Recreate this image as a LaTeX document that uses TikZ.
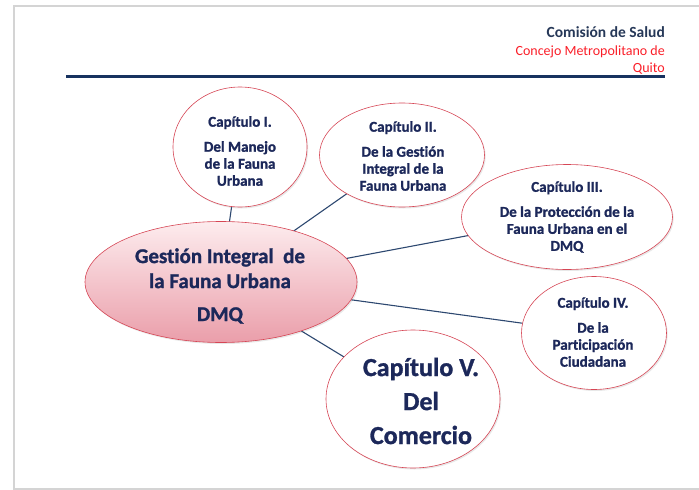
\documentclass[tikz,border=0pt]{standalone}
\usepackage{fontspec}
\setmainfont[Ligatures=NoCommon]{Carlito}
\newfontfamily\heavy[Ligatures=NoCommon,FakeBold=1.2]{Carlito Bold}
\usetikzlibrary{shapes.geometric,shadows,backgrounds}
\definecolor{navy}{RGB}{28,40,90}
\definecolor{rulec}{RGB}{23,50,95}
\definecolor{edgec}{RGB}{214,70,85}
\definecolor{connc}{RGB}{45,72,112}
\definecolor{hdrc}{RGB}{38,56,88}
\definecolor{redc}{RGB}{250,30,40}
\definecolor{framec}{RGB}{212,212,212}
\definecolor{pinktop}{RGB}{253,236,238}
\definecolor{pinkbot}{RGB}{234,158,170}
\begin{document}
\begin{tikzpicture}[x=1pt,y=-1pt,
  chap/.style={ellipse, draw=edgec, line width=0.6pt, fill=white, inner sep=0pt,
    drop shadow={shadow xshift=1.2pt, shadow yshift=-1.5pt, opacity=0.18}},
  hub/.style={ellipse, draw=edgec, line width=0.6pt, inner sep=0pt,
    top color=pinktop, bottom color=pinkbot,
    drop shadow={shadow xshift=1.2pt, shadow yshift=-1.5pt, opacity=0.18}},
  ctxt/.style={align=center, text=navy, font=\heavy\fontsize{15}{17}\selectfont, inner sep=0pt},
  conn/.style={draw=connc, line width=1.1pt},
  hdr/.style={anchor=base east, inner sep=0pt, font=\fontsize{14}{17}\selectfont}]
\useasboundingbox (0,0) rectangle (699,490);
% frame
\draw[framec, line width=1.6pt] (699,6) -- (14,6) -- (14,489) -- (699,489);
% header
\node[hdr, text=hdrc, font=\bfseries\fontsize{15.5}{17}\selectfont] (h1) at (665,37) {Comisión de Salud};
\node[hdr, text=redc] (h2) at (665,55) {Concejo Metropolitano de};
\node[hdr, text=redc] (h3) at (665,72) {Quito};
\draw[rulec, line width=3pt] (66,76) -- (665,76);
% ellipses
\node[hub, minimum width=272, minimum height=121] (m) at (221,282) {};
\node[chap, minimum width=134, minimum height=120] (c1) at (240,147) {};
\node[chap, minimum width=165, minimum height=104] (c2) at (402,155) {};
\node[chap, minimum width=211, minimum height=105] (c3) at (567,217) {};
\node[chap, minimum width=145, minimum height=113] (c4) at (594,333) {};
\node[chap, minimum width=174, minimum height=138] (c5) at (413,399) {};
% connectors
\begin{scope}[on background layer]
\draw[conn] (m.center) -- (c1.center);
\draw[conn] (m.center) -- (c2.center);
\draw[conn] (m.center) -- (c3.center);
\draw[conn] (m.center) -- (c4.center);
\draw[conn] (m.center) -- (c5.center);
\end{scope}
% texts
\node[ctxt, font=\heavy\fontsize{21}{25}\selectfont] (mt) at (220,286) {Gestión Integral~ de\\la Fauna Urbana\\[8pt]DMQ};
\node[ctxt] (t1) at (240,151) {Capítulo I.\\[8pt]Del Manejo\\de la Fauna\\Urbana};
\node[ctxt] (t2) at (403,156) {Capítulo II.\\[8pt]De la Gestión\\Integral de la\\Fauna Urbana};
\node[ctxt] (t3) at (567,217) {Capítulo III.\\[8pt]De la Protección de la\\Fauna Urbana en el\\DMQ};
\node[ctxt] (t4) at (593,332) {Capítulo IV.\\[8pt]De la\\Participación\\Ciudadana};
\node[ctxt, font=\heavy\fontsize{26}{34}\selectfont] (t5) at (421,401) {Capítulo V.\\Del\\Comercio};
\end{tikzpicture}
\end{document}
